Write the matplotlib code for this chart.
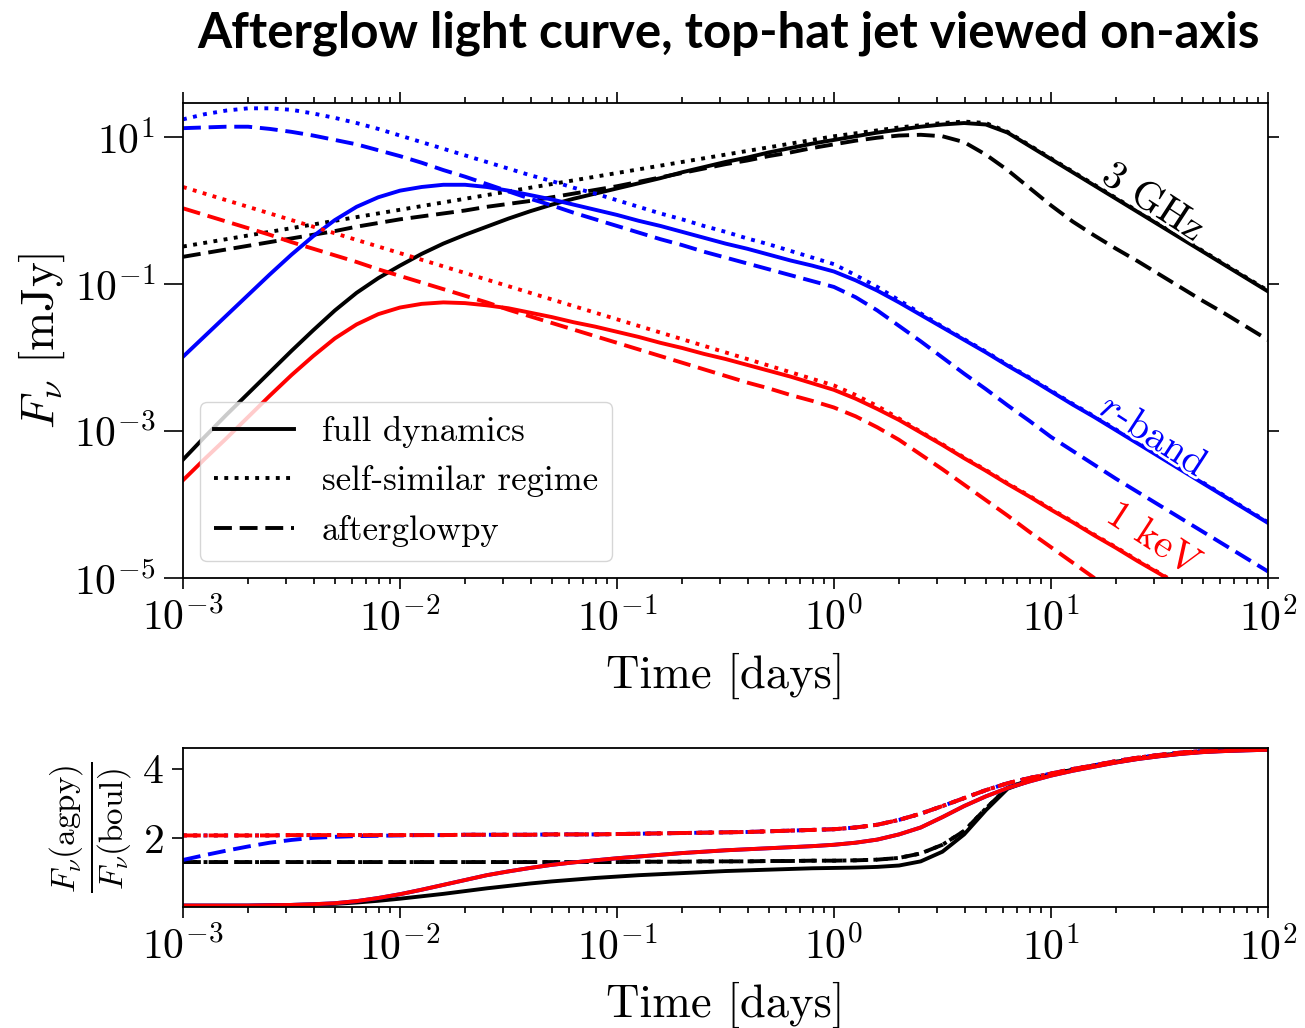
import numpy as np
import matplotlib
matplotlib.use('Agg')
import matplotlib.pyplot as plt
import matplotlib.ticker as ticker
import matplotlib.patheffects as pe
from matplotlib.lines import Line2D

plt.rcParams['font.family'] = 'serif'
plt.rcParams['font.serif'] = ['cmr10']
plt.rcParams['mathtext.fontset'] = 'cm'
plt.rcParams['axes.formatter.use_mathtext'] = True
plt.rcParams['axes.unicode_minus'] = False

# log10 of time [days], read on a 0.1 dex grid
log_t = [-3.0, -2.9, -2.8, -2.7, -2.6, -2.5, -2.4, -2.3, -2.2, -2.1,
         -2.0, -1.9, -1.8, -1.7, -1.6, -1.5, -1.4, -1.3, -1.2, -1.1,
         -1.0, -0.9, -0.8, -0.7, -0.6, -0.5, -0.4, -0.3, -0.2, -0.1,
         0.0, 0.1, 0.2, 0.3, 0.4, 0.5, 0.6, 0.7, 0.8, 0.9,
         1.0, 1.1, 1.2, 1.3, 1.4, 1.5, 1.6, 1.7, 1.8, 1.9, 2.0]

# log10 of flux [mJy], 3 GHz
radio_full = [-3.39, -3.08, -2.78, -2.49, -2.20, -1.91, -1.63, -1.36, -1.12, -0.92,
              -0.75, -0.59, -0.45, -0.33, -0.22, -0.11, -0.01, 0.08, 0.16, 0.23,
              0.30, 0.37, 0.44, 0.52, 0.59, 0.66, 0.72, 0.79, 0.85, 0.91,
              0.96, 1.01, 1.06, 1.10, 1.14, 1.17, 1.19, 1.17, 1.06, 0.88,
              0.70, 0.52, 0.34, 0.16, -0.02, -0.20, -0.38, -0.56, -0.74, -0.92, -1.10]
radio_ss = [-0.49, -0.44, -0.39, -0.34, -0.29, -0.24, -0.19, -0.14, -0.09, -0.04,
            0.01, 0.06, 0.11, 0.16, 0.21, 0.26, 0.31, 0.36, 0.41, 0.46,
            0.51, 0.56, 0.61, 0.66, 0.71, 0.76, 0.81, 0.86, 0.91, 0.96,
            1.01, 1.05, 1.09, 1.13, 1.16, 1.19, 1.21, 1.19, 1.07, 0.89,
            0.71, 0.53, 0.35, 0.17, -0.01, -0.19, -0.37, -0.55, -0.73, -0.91, -1.09]
radio_agpy = [-0.63, -0.58, -0.53, -0.48, -0.43, -0.38, -0.33, -0.28, -0.22, -0.17,
              -0.12, -0.08, -0.04, 0.00, 0.05, 0.09, 0.13, 0.18, 0.23, 0.28,
              0.33, 0.39, 0.45, 0.51, 0.57, 0.63, 0.68, 0.74, 0.79, 0.85,
              0.90, 0.95, 0.99, 1.02, 1.03, 1.01, 0.93, 0.76, 0.55, 0.31,
              0.07, -0.15, -0.34, -0.52, -0.69, -0.87, -1.05, -1.23, -1.40, -1.58, -1.76]

# r-band
opt_full = [-1.99, -1.71, -1.43, -1.15, -0.87, -0.60, -0.35, -0.13, 0.05, 0.18,
            0.27, 0.32, 0.35, 0.35, 0.32, 0.27, 0.21, 0.15, 0.08, 0.01,
            -0.06, -0.14, -0.21, -0.29, -0.37, -0.45, -0.52, -0.60, -0.68, -0.75,
            -0.83, -0.95, -1.09, -1.25, -1.42, -1.59, -1.76, -1.93, -2.11, -2.28,
            -2.46, -2.64, -2.81, -2.99, -3.17, -3.35, -3.53, -3.71, -3.89, -4.07, -4.25]
opt_ss = [1.24, 1.31, 1.36, 1.39, 1.39, 1.37, 1.32, 1.26, 1.19, 1.11,
          1.02, 0.93, 0.84, 0.75, 0.66, 0.57, 0.48, 0.40, 0.31, 0.23,
          0.14, 0.05, -0.04, -0.12, -0.21, -0.29, -0.38, -0.46, -0.55, -0.64,
          -0.73, -0.88, -1.04, -1.22, -1.40, -1.58, -1.75, -1.92, -2.10, -2.27,
          -2.45, -2.63, -2.80, -2.98, -3.16, -3.34, -3.52, -3.70, -3.88, -4.06, -4.24]
opt_agpy = [1.12, 1.13, 1.14, 1.14, 1.11, 1.07, 1.02, 0.96, 0.90, 0.82,
            0.74, 0.65, 0.55, 0.46, 0.36, 0.26, 0.16, 0.07, -0.03, -0.12,
            -0.21, -0.30, -0.39, -0.47, -0.56, -0.64, -0.72, -0.80, -0.88, -0.96,
            -1.04, -1.18, -1.36, -1.57, -1.78, -2.00, -2.22, -2.43, -2.65, -2.86,
            -3.08, -3.27, -3.46, -3.65, -3.83, -4.01, -4.19, -4.37, -4.55, -4.73, -4.91]

# 1 keV
xray_full = [-3.67, -3.38, -3.10, -2.81, -2.52, -2.24, -1.98, -1.74, -1.55, -1.41,
             -1.32, -1.27, -1.25, -1.26, -1.29, -1.33, -1.39, -1.45, -1.52, -1.58,
             -1.65, -1.72, -1.80, -1.87, -1.95, -2.02, -2.10, -2.18, -2.26, -2.35,
             -2.44, -2.56, -2.70, -2.85, -3.02, -3.19, -3.37, -3.54, -3.72, -3.89,
             -4.07, -4.24, -4.42, -4.59, -4.77, -4.94, -5.12, -5.29, -5.47, -5.64, -5.82]
xray_ss = [0.32, 0.23, 0.14, 0.05, -0.04, -0.13, -0.22, -0.31, -0.40, -0.49,
           -0.58, -0.67, -0.76, -0.85, -0.94, -1.03, -1.12, -1.21, -1.30, -1.39,
           -1.48, -1.57, -1.66, -1.75, -1.84, -1.93, -2.02, -2.11, -2.20, -2.29,
           -2.38, -2.51, -2.66, -2.83, -3.01, -3.18, -3.36, -3.53, -3.71, -3.88,
           -4.06, -4.23, -4.41, -4.58, -4.76, -4.93, -5.11, -5.28, -5.46, -5.63, -5.81]
xray_agpy = [0.03, -0.06, -0.15, -0.24, -0.33, -0.43, -0.52, -0.61, -0.70, -0.80,
             -0.89, -0.98, -1.07, -1.16, -1.25, -1.35, -1.44, -1.53, -1.62, -1.71,
             -1.80, -1.89, -1.98, -2.07, -2.16, -2.25, -2.34, -2.42, -2.51, -2.59,
             -2.68, -2.80, -2.95, -3.12, -3.32, -3.52, -3.73, -3.94, -4.15, -4.37,
             -4.58, -4.79, -5.00, -5.20, -5.40, -5.60, -5.80, -6.00, -6.20, -6.40, -6.60]

# ratio panel (linear)
ratio_radio_full = [0.04, 0.04, 0.04, 0.04, 0.05, 0.06, 0.07, 0.09, 0.13, 0.18,
                    0.24, 0.31, 0.38, 0.46, 0.54, 0.61, 0.68, 0.74, 0.79, 0.84,
                    0.88, 0.92, 0.95, 0.98, 1.01, 1.04, 1.06, 1.08, 1.10, 1.12,
                    1.13, 1.14, 1.16, 1.20, 1.32, 1.60, 2.10, 2.80, 3.42, 3.65,
                    3.82, 3.96, 4.08, 4.19, 4.29, 4.37, 4.44, 4.49, 4.52, 4.54, 4.55]
ratio_radio_ss = [1.30, 1.30, 1.30, 1.30, 1.30, 1.30, 1.30, 1.30, 1.30, 1.30,
                  1.30, 1.30, 1.30, 1.30, 1.30, 1.30, 1.30, 1.30, 1.30, 1.30,
                  1.30, 1.31, 1.31, 1.31, 1.32, 1.32, 1.32, 1.33, 1.33, 1.34,
                  1.34, 1.35, 1.37, 1.42, 1.55, 1.80, 2.20, 2.85, 3.45, 3.67,
                  3.84, 3.97, 4.09, 4.20, 4.30, 4.38, 4.45, 4.50, 4.53, 4.55, 4.56]
ratio_opt_full = [0.04, 0.04, 0.04, 0.04, 0.05, 0.06, 0.08, 0.11, 0.17, 0.26,
                  0.37, 0.50, 0.64, 0.78, 0.92, 1.03, 1.13, 1.22, 1.29, 1.35,
                  1.41, 1.46, 1.51, 1.56, 1.60, 1.64, 1.67, 1.70, 1.73, 1.76,
                  1.80, 1.86, 1.95, 2.10, 2.30, 2.60, 2.92, 3.20, 3.44, 3.63,
                  3.80, 3.94, 4.06, 4.18, 4.28, 4.36, 4.43, 4.48, 4.51, 4.53, 4.55]
ratio_opt_agpy = [1.36, 1.50, 1.63, 1.75, 1.86, 1.94, 2.00, 2.03, 2.05, 2.06,
                  2.07, 2.08, 2.08, 2.09, 2.09, 2.09, 2.09, 2.10, 2.10, 2.10,
                  2.11, 2.12, 2.13, 2.14, 2.15, 2.16, 2.17, 2.19, 2.21, 2.23,
                  2.25, 2.30, 2.38, 2.52, 2.70, 2.92, 3.15, 3.38, 3.58, 3.73,
                  3.86, 3.99, 4.10, 4.22, 4.32, 4.40, 4.47, 4.51, 4.54, 4.55, 4.56]
ratio_xray_ss = [2.07, 2.07, 2.07, 2.07, 2.07, 2.08, 2.08, 2.08, 2.08, 2.08,
                 2.08, 2.08, 2.08, 2.09, 2.09, 2.09, 2.09, 2.10, 2.10, 2.10,
                 2.11, 2.12, 2.13, 2.14, 2.15, 2.16, 2.17, 2.19, 2.21, 2.23,
                 2.25, 2.30, 2.38, 2.52, 2.70, 2.92, 3.15, 3.38, 3.58, 3.73,
                 3.86, 3.99, 4.10, 4.22, 4.32, 4.40, 4.47, 4.51, 4.54, 4.55, 4.56]

t_days = 10.0 ** np.array(log_t)
lw = 2.8
dash = (4.6, 2.0)

fig = plt.figure(figsize=(13.05, 10.28), dpi=100)
ax1 = fig.add_axes([0.1402, 0.4377, 0.8314, 0.4621])
ax2 = fig.add_axes([0.1402, 0.1177, 0.8314, 0.1547])

bands = [('k', radio_full, radio_ss, radio_agpy),
         ('b', opt_full, opt_ss, opt_agpy),
         ('r', xray_full, xray_ss, xray_agpy)]
for c, full, ss, agpy in bands:
    ax1.plot(t_days, 10.0 ** np.array(full), color=c, lw=lw, ls='-')
    ax1.plot(t_days, 10.0 ** np.array(ss), color=c, lw=lw, ls=':')
    ax1.plot(t_days, 10.0 ** np.array(agpy), color=c, lw=lw, ls='--', dashes=dash)

ax1.set_xscale('log')
ax1.set_yscale('log')
ax1.set_xlim(1e-3, 1e2)
ax1.set_ylim(1e-5, 29)
ax1.yaxis.set_major_locator(ticker.FixedLocator([1e-5, 1e-3, 1e-1, 1e1]))
ax1.yaxis.set_minor_locator(ticker.NullLocator())
ax1.xaxis.set_minor_locator(ticker.LogLocator(base=10, subs=np.arange(2, 10), numticks=20))
ax1.tick_params(which='both', direction='out', top=True, right=True, labelsize=30, width=1.2, pad=6)
ax1.tick_params(which='major', length=8)
ax1.tick_params(which='minor', length=4.5)
# left y ticks are longer than the right ones in the original
ax1.tick_params(axis='y', which='major', length=14)
for tk in ax1.yaxis.get_major_ticks():
    tk.tick2line.set_markersize(8)
for sp in ax1.spines.values():
    sp.set_linewidth(1.3)
ax1.set_xlabel('Time [days]', fontsize=33.5)
ax1.set_ylabel(r'$F_\nu$ [mJy]', fontsize=34)
ax1.xaxis.set_label_coords(0.5, -0.158)
ax1.yaxis.set_label_coords(-0.107, 0.5)

halo = [pe.withStroke(linewidth=4, foreground='white')]
ax1.text(29.5, 1.26, '3 GHz', color='k', fontsize=29, rotation=-33, ha='center', va='center',
         rotation_mode='anchor', path_effects=halo)
ax1.text(29.5, 8.3e-4, '$r$-band', color='b', fontsize=29, rotation=-33, ha='center', va='center',
         rotation_mode='anchor', path_effects=halo)
ax1.text(29.5, 3.3e-5, '1 keV', color='r', fontsize=29, rotation=-33, ha='center', va='center',
         rotation_mode='anchor', path_effects=halo)

handles = [Line2D([], [], color='k', lw=lw, ls='-'),
           Line2D([], [], color='k', lw=lw, ls=':'),
           Line2D([], [], color='k', lw=lw, ls='--', dashes=dash)]
ax1.legend(handles, ['full dynamics', 'self-similar regime', 'afterglowpy'],
           loc='lower left', fontsize=25, handlelength=2.3)

ratios = [('k', ratio_radio_full, ratio_radio_ss, ratio_radio_ss),
          ('b', ratio_opt_full, ratio_xray_ss, ratio_opt_agpy),
          ('r', ratio_opt_full, ratio_xray_ss, ratio_xray_ss)]
for c, full, ss, agpy in ratios:
    ax2.plot(t_days, full, color=c, lw=lw, ls='-')
    ax2.plot(t_days, ss, color=c, lw=lw, ls=':')
    ax2.plot(t_days, agpy, color=c, lw=lw, ls='--', dashes=dash)

ax2.set_xscale('log')
ax2.set_xlim(1e-3, 1e2)
ax2.set_ylim(0, 4.6)
ax2.set_yticks([2, 4])
ax2.xaxis.set_minor_locator(ticker.LogLocator(base=10, subs=np.arange(2, 10), numticks=20))
ax2.tick_params(which='both', direction='out', labelsize=30, width=1.2, pad=6)
ax2.tick_params(which='major', length=8)
ax2.tick_params(which='minor', length=4.5)
for sp in ax2.spines.values():
    sp.set_linewidth(1.3)
ax2.set_xlabel('Time [days]', fontsize=33.5)
ax2.set_ylabel(r'$\frac{F_\nu(\mathrm{agpy})}{F_\nu(\mathrm{boul})}$', fontsize=34)
ax2.xaxis.set_label_coords(0.5, -0.47)
ax2.yaxis.set_label_coords(-0.044, 0.5)

fig.text(0.558, 0.954, 'Afterglow light curve, top-hat jet viewed on-axis',
         ha='center', va='baseline', fontsize=35.5, fontweight='bold', family='Lato')

fig.savefig('out.png', dpi=100)
